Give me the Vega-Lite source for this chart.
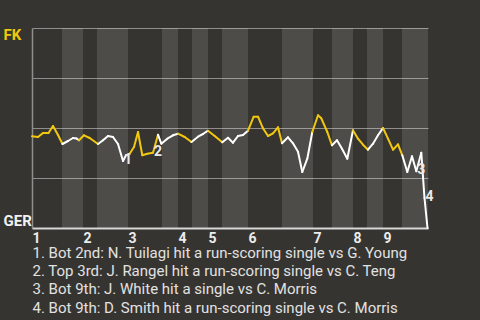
{
  "$schema": "https://vega.github.io/schema/vega-lite/v6.json",
  "width": 396,
  "height": 200,
  "autosize": "none",
  "padding": {"left": 32, "top": 28, "right": 52, "bottom": 92},
  "background": "#363430",
  "config": {"view": {"stroke": null}, "font": "Roboto"},
  "datasets": {
    "plays": [
      {"t": 0, "p": 0.4585, "half": "top"},
      {"t": 6, "p": 0.455, "half": "top"},
      {"t": 11, "p": 0.475, "half": "top"},
      {"t": 16.5, "p": 0.475, "half": "top"},
      {"t": 21, "p": 0.51, "half": "top"},
      {"t": 26, "p": 0.465, "half": "top"},
      {"t": 30.5, "p": 0.42, "half": "top"},
      {"t": 36, "p": 0.435, "half": "bot"},
      {"t": 41, "p": 0.45, "half": "bot"},
      {"t": 44.5, "p": 0.4475, "half": "bot"},
      {"t": 47, "p": 0.4385, "half": "bot"},
      {"t": 52, "p": 0.4635, "half": "top"},
      {"t": 57.7, "p": 0.45, "half": "top"},
      {"t": 66, "p": 0.42, "half": "top"},
      {"t": 71, "p": 0.4385, "half": "bot"},
      {"t": 76, "p": 0.46, "half": "bot"},
      {"t": 81, "p": 0.455, "half": "bot"},
      {"t": 86, "p": 0.42, "half": "bot"},
      {"t": 91, "p": 0.335, "half": "bot", "event": "1"},
      {"t": 94, "p": 0.3635, "half": "bot"},
      {"t": 97.7, "p": 0.3715, "half": "bot"},
      {"t": 102, "p": 0.405, "half": "top"},
      {"t": 106, "p": 0.48, "half": "top"},
      {"t": 110.3, "p": 0.3635, "half": "top"},
      {"t": 115.3, "p": 0.3715, "half": "top"},
      {"t": 121, "p": 0.3765, "half": "top", "event": "2"},
      {"t": 126, "p": 0.4665, "half": "top"},
      {"t": 129.3, "p": 0.4215, "half": "bot"},
      {"t": 135.3, "p": 0.4465, "half": "bot"},
      {"t": 141, "p": 0.4635, "half": "bot"},
      {"t": 146, "p": 0.4715, "half": "bot"},
      {"t": 152.7, "p": 0.455, "half": "top"},
      {"t": 159.5, "p": 0.43, "half": "top"},
      {"t": 166, "p": 0.4565, "half": "bot"},
      {"t": 171, "p": 0.47, "half": "bot"},
      {"t": 176, "p": 0.4865, "half": "bot"},
      {"t": 182.7, "p": 0.46, "half": "top"},
      {"t": 190.3, "p": 0.4285, "half": "top"},
      {"t": 196, "p": 0.4515, "half": "bot"},
      {"t": 201, "p": 0.4265, "half": "bot"},
      {"t": 206, "p": 0.46, "half": "bot"},
      {"t": 211, "p": 0.465, "half": "bot"},
      {"t": 216, "p": 0.4865, "half": "bot"},
      {"t": 221.7, "p": 0.5565, "half": "top"},
      {"t": 226, "p": 0.5565, "half": "top"},
      {"t": 231, "p": 0.4985, "half": "top"},
      {"t": 236, "p": 0.46, "half": "top"},
      {"t": 241, "p": 0.4735, "half": "top"},
      {"t": 246, "p": 0.5035, "half": "top"},
      {"t": 250, "p": 0.4235, "half": "top"},
      {"t": 256, "p": 0.4535, "half": "bot"},
      {"t": 261, "p": 0.4235, "half": "bot"},
      {"t": 266, "p": 0.3815, "half": "bot"},
      {"t": 270.3, "p": 0.28, "half": "bot"},
      {"t": 275.3, "p": 0.3465, "half": "bot"},
      {"t": 280.3, "p": 0.48, "half": "bot"},
      {"t": 286, "p": 0.5635, "half": "top"},
      {"t": 289.3, "p": 0.5485, "half": "top"},
      {"t": 295.3, "p": 0.48, "half": "top"},
      {"t": 300, "p": 0.4135, "half": "top"},
      {"t": 305, "p": 0.4385, "half": "bot"},
      {"t": 310, "p": 0.3965, "half": "bot"},
      {"t": 315.3, "p": 0.3465, "half": "bot"},
      {"t": 321, "p": 0.4885, "half": "bot"},
      {"t": 326, "p": 0.4465, "half": "top"},
      {"t": 331, "p": 0.4165, "half": "top"},
      {"t": 336, "p": 0.3915, "half": "top"},
      {"t": 341, "p": 0.4215, "half": "bot"},
      {"t": 346, "p": 0.4635, "half": "bot"},
      {"t": 351, "p": 0.5, "half": "bot"},
      {"t": 356, "p": 0.4465, "half": "top"},
      {"t": 361, "p": 0.3915, "half": "top"},
      {"t": 366, "p": 0.418, "half": "top"},
      {"t": 370.3, "p": 0.3635, "half": "top"},
      {"t": 375.3, "p": 0.28, "half": "bot"},
      {"t": 380, "p": 0.3585, "half": "bot"},
      {"t": 384.3, "p": 0.2835, "half": "bot", "event": "3"},
      {"t": 389.3, "p": 0.3765, "half": "bot"},
      {"t": 392.5, "p": 0.15, "half": "bot", "event": "4"},
      {"t": 395.5, "p": 0.0, "half": "bot"}
    ],
    "bottomHalves": [
      {"inning": 1, "start": 30, "end": 51},
      {"inning": 2, "start": 65, "end": 96},
      {"inning": 3, "start": 130, "end": 146},
      {"inning": 4, "start": 160, "end": 176},
      {"inning": 5, "start": 190, "end": 216},
      {"inning": 6, "start": 250, "end": 281},
      {"inning": 7, "start": 300, "end": 321},
      {"inning": 8, "start": 335, "end": 351},
      {"inning": 9, "start": 370, "end": 396}
    ]
  },
  "layer": [
    {
      "data": {"name": "bottomHalves"},
      "mark": {"type": "rect", "color": "#ffffff", "opacity": 0.12},
      "encoding": {
        "x": {"field": "start", "type": "quantitative", "scale": {"domain": [0, 396], "nice": false, "zero": false}},
        "x2": {"field": "end"}
      }
    },
    {
      "data": {"name": "plays"},
      "transform": [
        {"window": [{"op": "lag", "field": "t", "as": "t0"}, {"op": "lag", "field": "p", "as": "p0"}], "sort": [{"field": "t"}]},
        {"filter": "isValid(datum.t0)"}
      ],
      "mark": {"type": "rule", "strokeWidth": 2, "strokeCap": "round"},
      "encoding": {
        "x": {
          "field": "t0", "type": "quantitative",
          "scale": {"domain": [0, 396], "nice": false, "zero": false},
          "axis": {
            "values": [0, 51, 96, 146, 176, 216, 281, 321, 351],
            "labelExpr": "'' + (indexof([0, 51, 96, 146, 176, 216, 281, 321, 351], datum.value) + 1)",
            "grid": false, "ticks": false,
            "domain": true, "domainColor": "#d6d6d4", "domainWidth": 2,
            "labelAlign": "left", "labelBaseline": "top", "labelPadding": 3,
            "labelFont": "Roboto", "labelFontSize": 14, "labelFontWeight": "bold", "labelColor": "#ececec",
            "labelFlush": false, "labelOverlap": false, "labelBound": false,
            "title": [
              "1. Bot 2nd: N. Tuilagi hit a run-scoring single vs G. Young",
              "2. Top 3rd: J. Rangel hit a run-scoring single vs C. Teng",
              "3. Bot 9th: J. White hit a single vs C. Morris",
              "4. Bot 9th: D. Smith hit a run-scoring single vs C. Morris"
            ],
            "titleAnchor": "start", "titleAlign": "left", "titleX": 0, "titleY": 29.5,
            "titleBaseline": "alphabetic", "titleLineHeight": 18.2,
            "titleFont": "Roboto", "titleFontSize": 15, "titleFontWeight": "normal", "titleColor": "#e2e2e2"
          }
        },
        "x2": {"field": "t"},
        "y": {
          "field": "p0", "type": "quantitative",
          "scale": {"domain": [0, 1], "nice": false, "zero": false},
          "axis": {
            "values": [0, 0.25, 0.5, 0.75, 1],
            "grid": true, "gridColor": "#8f8e8c", "gridWidth": 1.2,
            "domain": true, "domainColor": "#8f8e8c", "domainWidth": 1.5,
            "ticks": false, "title": null,
            "labelExpr": "datum.value == 1 ? 'FK' : datum.value == 0 ? 'GER' : ''",
            "labelAlign": "left", "labelPadding": 29,
            "labelFont": "Roboto", "labelFontSize": 15, "labelFontWeight": "bold",
            "labelColor": {"condition": {"test": "datum.value == 1", "value": "#f0c808"}, "value": "#f2f2f2"},
            "labelBaseline": "alphabetic",
            "labelOffset": {"condition": {"test": "datum.value == 1", "value": 11}, "value": -3},
            "labelFlush": false, "labelOverlap": false, "labelBound": false
          }
        },
        "y2": {"field": "p"},
        "color": {
          "field": "half", "type": "nominal",
          "scale": {"domain": ["top", "bot"], "range": ["#f2c80f", "#ffffff"]},
          "legend": null
        }
      }
    },
    {
      "data": {"name": "plays"},
      "transform": [{"filter": "isValid(datum.event)"}],
      "mark": {"type": "text", "align": "left", "baseline": "alphabetic", "dx": 1, "dy": 3, "font": "Roboto", "fontSize": 14, "fontWeight": "bold", "color": "#e8e8e8"},
      "encoding": {
        "x": {"field": "t", "type": "quantitative", "scale": {"domain": [0, 396], "nice": false, "zero": false}},
        "y": {"field": "p", "type": "quantitative", "scale": {"domain": [0, 1], "nice": false, "zero": false}},
        "text": {"field": "event"}
      }
    }
  ]
}
